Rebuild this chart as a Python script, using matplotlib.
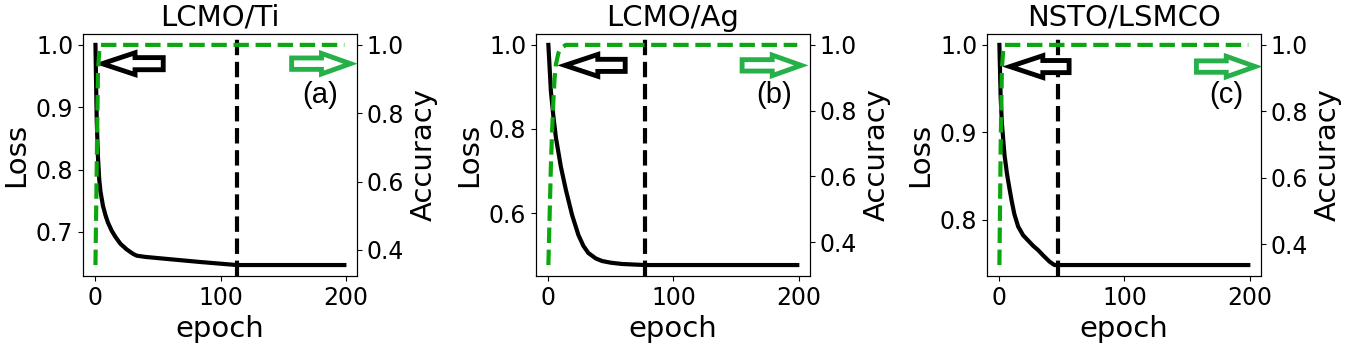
"""
Loss / accuracy training curves for three devices.
"""

import matplotlib
matplotlib.use("Agg")
import matplotlib.pyplot as plt
from matplotlib.patches import FancyArrow

plt.rcParams['font.family'] = ['DejaVu Sans']

titles = ["LCMO/Ti", "LCMO/Ag", "NSTO/LSMCO"]
tags = ["(a)", "(b)", "(c)"]
stop_epoch = [113, 77, 47]

# loss curves (epoch, value)
loss_ep_a = [0, 1, 2, 3, 4, 6, 8, 10, 13, 16, 20, 25, 30, 33, 40, 56, 83, 113, 199]
loss_a = [1.0, 0.88, 0.82, 0.785, 0.765, 0.742, 0.727, 0.715, 0.702, 0.692, 0.681, 0.672, 0.665, 0.662, 0.660, 0.657, 0.652, 0.647, 0.647]

loss_ep_b = [0, 2, 4, 6, 8, 10, 14, 19, 24, 28, 32, 38, 43, 50, 59, 77, 199]
loss_b = [1.0, 0.89, 0.83, 0.78, 0.745, 0.71, 0.655, 0.595, 0.548, 0.522, 0.505, 0.492, 0.486, 0.482, 0.479, 0.4765, 0.4765]

loss_ep_c = [0, 1, 2, 4, 6, 8, 10, 12, 15, 19, 23, 27, 31, 35, 40, 44, 47, 199]
loss_c = [1.0, 0.94, 0.91, 0.875, 0.853, 0.836, 0.82, 0.806, 0.792, 0.782, 0.776, 0.770, 0.765, 0.759, 0.752, 0.748, 0.748, 0.748]

# accuracy curves (epoch, value)
acc_ep_a = [0, 1, 2, 3, 4, 199]
acc_a = [0.356, 0.64, 0.92, 0.98, 1.0, 1.0]

acc_ep_b = [0, 1, 2, 3, 4, 5, 6, 8, 10, 14, 199]
acc_b = [0.33, 0.48, 0.63, 0.74, 0.83, 0.90, 0.94, 0.975, 0.99, 1.0, 1.0]

acc_ep_c = [0, 1, 2, 3, 4, 199]
acc_c = [0.337, 0.69, 0.93, 0.98, 1.0, 1.0]

loss_ep = [loss_ep_a, loss_ep_b, loss_ep_c]
loss = [loss_a, loss_b, loss_c]
acc_ep = [acc_ep_a, acc_ep_b, acc_ep_c]
acc = [acc_a, acc_b, acc_c]

dash_green = '#0aa80e'
arrow_green = '#26b04a'

# left edges of the three axes (figure fraction)
lefts = [0.0614, 0.3964, 0.730]
# black arrow (tip, tail) and green arrow (tail, tip) in axes fraction
black_arr = [(0.070, 0.293), (0.106, 0.326), (0.084, 0.300)]
green_arr = [(0.762, 0.977), (0.753, 0.969), (0.765, 0.980)]
arr_y = [0.877, 0.87, 0.865]
tag_x = [0.865, 0.869, 0.875]

fig = plt.figure(figsize=(13.52, 3.53), dpi=100)
for i in range(3):
    ax = fig.add_axes([lefts[i], 0.218, 0.2025, 0.686])
    ax2 = ax.twinx()
    ax.plot(loss_ep[i], loss[i], color='black', lw=3)
    ax2.plot(acc_ep[i], acc[i], color=dash_green, lw=3, ls='--')
    ax.axvline(stop_epoch[i], color='black', lw=3, ls='--')

    ax.set_title(titles[i], fontsize=21)
    ax.set_xlabel("epoch", fontsize=21)
    ax.set_ylabel("Loss", fontsize=21)
    ax2.set_ylabel("Accuracy", fontsize=21)
    ax.tick_params(labelsize=17)
    ax2.tick_params(labelsize=17)
    ax.set_xticks([0, 100, 200])

    # block arrows pointing to the axis that each curve belongs to
    tip, tail = black_arr[i]
    ax.add_patch(FancyArrow(tail, arr_y[i], tip - tail, 0, width=0.05,
                            head_width=0.09, head_length=0.12,
                            length_includes_head=True, transform=ax.transAxes,
                            fc='white', ec='black', lw=3.5, zorder=5))
    tail, tip = green_arr[i]
    ax2.add_patch(FancyArrow(tail, arr_y[i], tip - tail, 0, width=0.047,
                             head_width=0.085, head_length=0.106,
                             length_includes_head=True, transform=ax2.transAxes,
                             fc='white', ec=arrow_green, lw=3.5, zorder=5))
    ax2.text(tag_x[i], 0.748, tags[i], transform=ax2.transAxes, ha='center',
             va='center', fontsize=21, family='Liberation Sans')

fig.savefig("out.png", dpi=100)
